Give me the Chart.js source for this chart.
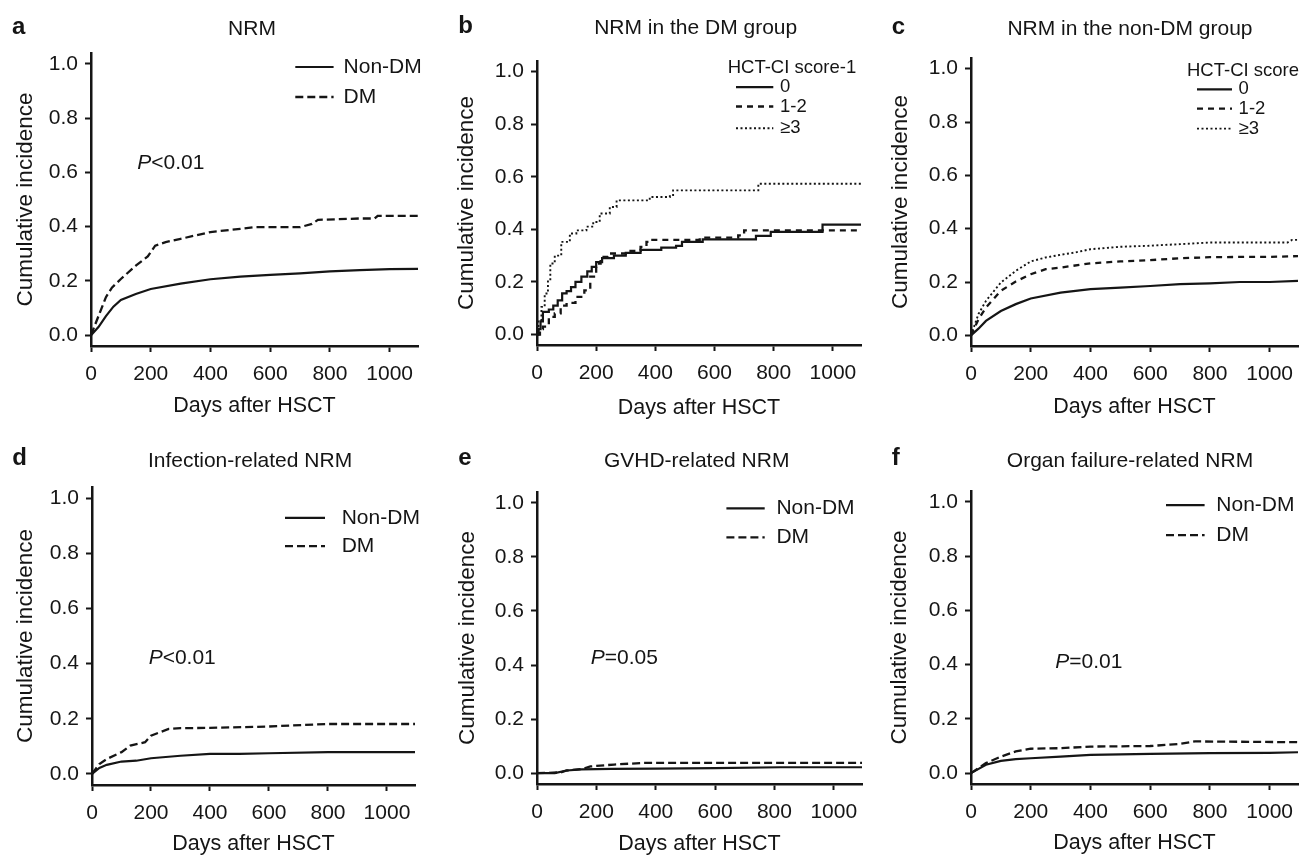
<!DOCTYPE html>
<html>
<head>
<meta charset="utf-8">
<script src="https://cdn.jsdelivr.net/npm/chart.js@4.4.0/dist/chart.umd.min.js"></script>
<style>
  html, body { margin: 0; padding: 0; background: #fff; }
  #fig { position: relative; width: 1303px; height: 856px; overflow: hidden;
         font-family: "Liberation Sans", Arial, sans-serif; color: #151515; }
  #fig canvas { position: absolute; }
  .ttl { position: absolute; white-space: nowrap; font-size: 21px; line-height: 21px; transform: translateX(-50%); }
  .letter { position: absolute; font-weight: bold; font-size: 24px; line-height: 24px; }
</style>
</head>
<body>
<div id="fig"></div>
<script>
// ---- data (days after HSCT / cumulative incidence) ----
const xTicks = [0, 200, 400, 600, 800, 1000];
const yTicks = [0, 0.2, 0.4, 0.6, 0.8, 1.0];

// a: NRM
const nrmNonDmDays = [0, 25, 50, 75, 100, 150, 200, 300, 400, 500, 600, 700, 800, 900, 1000, 1095];
const nrmNonDm     = [0, 0.03, 0.07, 0.105, 0.13, 0.152, 0.17, 0.19, 0.206, 0.216, 0.222, 0.228, 0.235, 0.24, 0.243, 0.244];
const nrmDmDays = [0, 25, 50, 70, 100, 150, 190, 215, 250, 300, 400, 500, 550, 700, 740, 760, 900, 950, 960, 1095];
const nrmDm     = [0, 0.07, 0.14, 0.175, 0.207, 0.256, 0.29, 0.33, 0.343, 0.355, 0.38, 0.392, 0.398, 0.398, 0.41, 0.425, 0.43, 0.43, 0.44, 0.44];

// b: NRM in the DM group (step curves)
const dmScore0Days = [0, 5, 12, 20, 40, 55, 70, 85, 100, 115, 130, 150, 170, 185, 200, 220, 260, 300, 350, 420, 470, 490, 560, 740, 790, 965, 1095];
const dmScore0     = [0, 0.02, 0.05, 0.086, 0.095, 0.11, 0.13, 0.156, 0.165, 0.18, 0.2, 0.22, 0.24, 0.257, 0.275, 0.29, 0.3, 0.31, 0.322, 0.33, 0.337, 0.352, 0.362, 0.375, 0.39, 0.418, 0.418];
const dmScore12Days = [0, 10, 20, 40, 60, 80, 100, 130, 160, 180, 200, 215, 240, 300, 350, 370, 390, 550, 680, 700, 1095];
const dmScore12     = [0, 0.02, 0.03, 0.067, 0.08, 0.11, 0.12, 0.143, 0.168, 0.22, 0.27, 0.295, 0.308, 0.318, 0.333, 0.352, 0.36, 0.368, 0.377, 0.396, 0.396];
const dmScore3Days = [0, 5, 15, 26, 37, 45, 60, 82, 111, 133, 167, 190, 212, 246, 269, 359, 381, 449, 460, 737, 748, 1095];
const dmScore3     = [0, 0.05, 0.105, 0.156, 0.206, 0.27, 0.3, 0.352, 0.384, 0.396, 0.41, 0.428, 0.46, 0.485, 0.51, 0.51, 0.523, 0.53, 0.548, 0.548, 0.573, 0.573];

// c: NRM in the non-DM group
const nonDmScore0Days = [0, 25, 50, 100, 150, 200, 300, 400, 500, 600, 700, 800, 900, 1000, 1095];
const nonDmScore0     = [0, 0.025, 0.054, 0.091, 0.117, 0.138, 0.16, 0.173, 0.179, 0.185, 0.192, 0.195, 0.2, 0.2, 0.204];
const nonDmScore12Days = [0, 25, 50, 100, 150, 200, 250, 300, 400, 500, 600, 700, 800, 900, 1000, 1095];
const nonDmScore12     = [0, 0.06, 0.104, 0.167, 0.202, 0.229, 0.248, 0.254, 0.27, 0.277, 0.282, 0.289, 0.293, 0.294, 0.294, 0.297];
const nonDmScore3Days = [0, 25, 50, 100, 150, 200, 250, 300, 350, 400, 500, 600, 700, 800, 900, 1000, 1060, 1075, 1095];
const nonDmScore3     = [0, 0.08, 0.129, 0.198, 0.242, 0.277, 0.292, 0.302, 0.311, 0.323, 0.332, 0.336, 0.342, 0.348, 0.348, 0.348, 0.348, 0.358, 0.358];

// d: infection-related NRM
const infNonDmDays = [0, 25, 50, 100, 150, 200, 300, 400, 500, 600, 800, 1000, 1095];
const infNonDm     = [0, 0.022, 0.033, 0.045, 0.048, 0.057, 0.066, 0.073, 0.073, 0.075, 0.079, 0.079, 0.079];
const infDmDays = [0, 25, 50, 100, 130, 180, 200, 230, 260, 300, 400, 600, 750, 800, 1095];
const infDm     = [0, 0.036, 0.054, 0.079, 0.103, 0.115, 0.139, 0.151, 0.163, 0.166, 0.167, 0.172, 0.179, 0.181, 0.181];

// e: GVHD-related NRM
const gvhdNonDmDays = [0, 60, 100, 150, 250, 400, 600, 820, 1095];
const gvhdNonDm     = [0, 0, 0.01, 0.014, 0.016, 0.017, 0.019, 0.022, 0.022];
const gvhdDmDays = [0, 80, 100, 150, 180, 260, 360, 1095];
const gvhdDm     = [0, 0.003, 0.01, 0.015, 0.025, 0.032, 0.038, 0.038];

// f: organ failure-related NRM
const organNonDmDays = [0, 50, 100, 150, 200, 300, 400, 600, 800, 1000, 1095];
const organNonDm     = [0, 0.031, 0.045, 0.052, 0.055, 0.061, 0.067, 0.071, 0.074, 0.075, 0.077];
const organDmDays = [0, 50, 100, 150, 200, 300, 400, 600, 700, 750, 1095];
const organDm     = [0, 0.037, 0.061, 0.08, 0.09, 0.092, 0.098, 0.1, 0.108, 0.117, 0.114];

// ---- drawing ----
const INK = '#151515';
const FONT = '"Liberation Sans", Arial, sans-serif';
const Y_W = 90, PAD_T = 25, X_H = 80, PAD_R = 6;
const X_TITLE = 21.5, Y_TITLE = 22.5;

function pts(xs, ys) { return xs.map((x, i) => ({ x: x, y: ys[i] })); }

const lineStyle = {
  solid:  { borderDash: [], borderWidth: 2.2 },
  dashed: { borderDash: [8, 4], borderWidth: 2.3 },
  dashB:  { borderDash: [6, 5], borderWidth: 2.3 },
  dotted: { borderDash: [2, 2.5], borderWidth: 1.9 }
};

function series(label, xs, ys, style, stepped) {
  return Object.assign({
    label: label, data: pts(xs, ys), borderColor: INK, pointRadius: 0,
    fill: false, tension: 0, stepped: !!stepped
  }, lineStyle[style]);
}

// legend + P value drawn inside the plot
const panelDecor = {
  id: 'panelDecor',
  afterDatasetsDraw(chart, args, opts) {
    const ctx = chart.ctx, a = chart.chartArea, lg = opts.legend;
    ctx.save();
    ctx.fillStyle = INK; ctx.strokeStyle = INK;
    ctx.textAlign = 'left'; ctx.textBaseline = 'middle';
    ctx.font = lg.size + 'px ' + FONT;
    if (lg.title) ctx.fillText(lg.title, a.right + lg.titleDx, a.top + lg.titleDy);
    chart.data.datasets.forEach((ds, i) => {
      const y = a.top + lg.rows[i];
      ctx.lineWidth = ds.borderWidth;
      ctx.setLineDash(ds.borderDash);
      ctx.beginPath();
      ctx.moveTo(a.right + lg.x1, y);
      ctx.lineTo(a.right + lg.x2, y);
      ctx.stroke();
      ctx.setLineDash([]);
      ctx.fillText(ds.label, a.right + lg.tx, y);
    });
    if (opts.p) {
      const px = chart.scales.x.getPixelForValue(opts.p.x);
      const py = chart.scales.y.getPixelForValue(opts.p.y);
      ctx.textBaseline = 'alphabetic';
      ctx.font = 'italic 21px ' + FONT;
      ctx.fillText('P', px, py);
      const w = ctx.measureText('P').width;
      ctx.font = '21px ' + FONT;
      ctx.fillText(opts.p.text, px + w, py);
    }
    ctx.restore();
  }
};

function axisCommon() {
  return {
    grid: { display: true, drawOnChartArea: false, drawTicks: true, tickLength: 6, tickWidth: 2, tickColor: INK, color: INK },
    border: { display: true, color: INK, width: 2.5 }
  };
}

function addPanel(cfg) {
  const fig = document.getElementById('fig');
  const b = cfg.box;
  const cv = document.createElement('canvas');
  const w = Math.round(Y_W + (b.R - b.L) + PAD_R);
  const h = Math.round(PAD_T + (b.B - b.T) + X_H);
  cv.width = w; cv.height = h;
  cv.style.width = w + 'px'; cv.style.height = h + 'px';
  cv.style.left = Math.round(b.L - Y_W) + 'px';
  cv.style.top = Math.round(b.T - PAD_T) + 'px';
  fig.appendChild(cv);

  const t = document.createElement('div');
  t.className = 'ttl'; t.textContent = cfg.title;
  t.style.left = cfg.titleX + 'px'; t.style.top = (cfg.titleBase - 17.8) + 'px';
  fig.appendChild(t);
  const l = document.createElement('div');
  l.className = 'letter'; l.textContent = cfg.letter;
  l.style.left = cfg.letterX + 'px'; l.style.top = (cfg.letterBase - 20.3) + 'px';
  fig.appendChild(l);

  const xs = axisCommon(), ys = axisCommon();
  new Chart(cv.getContext('2d'), {
    type: 'line',
    data: { datasets: cfg.datasets },
    options: {
      responsive: false, animation: false, devicePixelRatio: 1,
      layout: { padding: { top: PAD_T, right: PAD_R, left: 0, bottom: 0 } },
      plugins: { legend: { display: false }, tooltip: { enabled: false },
                 panelDecor: { legend: cfg.legend, p: cfg.p } },
      scales: {
        x: Object.assign(xs, {
          type: 'linear', min: 0, max: 1095,
          afterBuildTicks: s => { s.ticks = xTicks.map(v => ({ value: v })); },
          afterFit: s => { s.height = X_H; },
          ticks: { color: INK, font: { family: FONT, size: 21 }, padding: 10, autoSkip: false, maxRotation: 0,
                   callback: v => String(v) },
          title: { display: true, text: 'Days after HSCT', color: INK, font: { family: FONT, size: X_TITLE },
                   padding: { top: 0, bottom: X_H - cfg.xTitleDy - X_TITLE * 0.6 } }
        }),
        y: Object.assign(ys, {
          type: 'linear', min: -0.04, max: 1.04,
          afterBuildTicks: s => { s.ticks = yTicks.map(v => ({ value: v })); },
          afterFit: s => { s.width = Y_W; },
          ticks: { color: INK, font: { family: FONT, size: 21 }, padding: 7,
                   callback: v => Number(v).toFixed(1) },
          title: { display: true, text: 'Cumulative incidence', color: INK, font: { family: FONT, size: Y_TITLE },
                   padding: { top: Y_W + cfg.yTitleDx - Y_TITLE * 0.6, bottom: 0 } }
        })
      }
    },
    plugins: [panelDecor]
  });
}

addPanel({
  letter: 'a', title: 'NRM', titleX: 252, titleBase: 34.3, letterX: 12, letterBase: 34.3,
  box: { L: 90.7, T: 52.7, R: 417.7, B: 345.7 }, yTitleDx: -65.7, xTitleDy: 60.3,
  legend: { size: 21, x1: -122.7, x2: -84.4, tx: -74.4, rows: [14, 44] },
  p: { x: 155, y: 0.613, text: '<0.01' },
  datasets: [series('Non-DM', nrmNonDmDays, nrmNonDm, 'solid'), series('DM', nrmDmDays, nrmDm, 'dashed')]
});
addPanel({
  letter: 'b', title: 'NRM in the DM group', titleX: 695.7, titleBase: 34, letterX: 458.3, letterBase: 33.3,
  box: { L: 537.3, T: 60.5, R: 861, B: 344 }, yTitleDx: -70.6, xTitleDy: 62.7,
  legend: { size: 18.5, title: 'HCT-CI score-1', titleDx: -133.3, titleDy: 6.7, x1: -125, x2: -87.7, tx: -81, rows: [26.2, 45.5, 67.2] },
  datasets: [series('0', dmScore0Days, dmScore0, 'solid', true),
             series('1-2', dmScore12Days, dmScore12, 'dashB', true),
             series('\u22653', dmScore3Days, dmScore3, 'dotted', true)]
});
addPanel({
  letter: 'c', title: 'NRM in the non-DM group', titleX: 1130, titleBase: 34.3, letterX: 891.7, letterBase: 34.3,
  box: { L: 970.7, T: 57.7, R: 1297.7, B: 345.7 }, yTitleDx: -70.7, xTitleDy: 61,
  legend: { size: 18.5, title: 'HCT-CI score', titleDx: -111, titleDy: 13, x1: -101, x2: -66, tx: -59.4, rows: [31.3, 50.6, 70.6] },
  datasets: [series('0', nonDmScore0Days, nonDmScore0, 'solid'),
             series('1-2', nonDmScore12Days, nonDmScore12, 'dashB'),
             series('\u22653', nonDmScore3Days, nonDmScore3, 'dotted')]
});
addPanel({
  letter: 'd', title: 'Infection-related NRM', titleX: 250, titleBase: 466.7, letterX: 12.3, letterBase: 465,
  box: { L: 91.7, T: 486.7, R: 415, B: 784.3 }, yTitleDx: -66.7, xTitleDy: 58.7,
  legend: { size: 21, x1: -130, x2: -90, tx: -73.3, rows: [30.8, 59.1] },
  p: { x: 192, y: 0.40, text: '<0.01' },
  datasets: [series('Non-DM', infNonDmDays, infNonDm, 'solid'), series('DM', infDmDays, infDm, 'dashed')]
});
addPanel({
  letter: 'e', title: 'GVHD-related NRM', titleX: 696.7, titleBase: 466.7, letterX: 458.3, letterBase: 465,
  box: { L: 537.3, T: 491.9, R: 862.3, B: 784.3 }, yTitleDx: -69, xTitleDy: 60,
  legend: { size: 21, x1: -135.6, x2: -97.3, tx: -85.6, rows: [16.4, 45.4] },
  p: { x: 181, y: 0.405, text: '=0.05' },
  datasets: [series('Non-DM', gvhdNonDmDays, gvhdNonDm, 'solid'), series('DM', gvhdDmDays, gvhdDm, 'dashed')]
});
addPanel({
  letter: 'f', title: 'Organ failure-related NRM', titleX: 1130, titleBase: 466.7, letterX: 891.7, letterBase: 465,
  box: { L: 971, T: 490.8, R: 1297.7, B: 784.3 }, yTitleDx: -71, xTitleDy: 59.5,
  legend: { size: 21, x1: -132, x2: -93.4, tx: -81.7, rows: [14.2, 44.2] },
  p: { x: 282, y: 0.387, text: '=0.01' },
  datasets: [series('Non-DM', organNonDmDays, organNonDm, 'solid'), series('DM', organDmDays, organDm, 'dashed')]
});
</script>
</body>
</html>
